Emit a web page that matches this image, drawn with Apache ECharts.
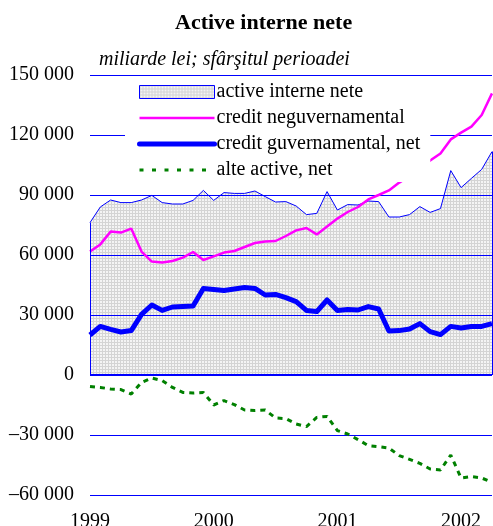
<!DOCTYPE html>
<html>
<head>
<meta charset="utf-8">
<script src="https://cdn.jsdelivr.net/npm/echarts@6/dist/echarts.min.js"></script>
<style>
  html, body { margin: 0; padding: 0; background: #fff; }
  #chart { width: 493px; height: 526px; }
</style>
</head>
<body>
<div id="chart"></div>
<script>
  // monthly, jan 1999 - apr 2002 (end of period)
  var years = ['1999', '2000', '2001', '2002'];
  var months = [];
  years.forEach(function (y) {
    for (var m = 1; m <= 12; m++) {
      if (months.length < 40) months.push(y + '-' + (m < 10 ? '0' + m : m));
    }
  });

  var activeInterne = [76200, 84000, 87500, 86200, 86200, 87500, 89800, 86200, 85500, 85500,
    87300, 92300, 87300, 91200, 90800, 90800, 92000, 89200, 86500, 86700,
    84500, 80200, 80800, 91700, 82500, 85200, 85000, 87000, 86700, 79000,
    79000, 80200, 84200, 81300, 83200, 102200, 93700, 98300, 102800, 111700];

  var creditNeguv = [61700, 65300, 71700, 71200, 73200, 61700, 56700, 56300, 57000, 58700,
    61500, 57500, 59300, 61200, 62000, 64000, 66000, 66700, 67000, 69500,
    72300, 73500, 70300, 74200, 78200, 81500, 84000, 87800, 90000, 92300,
    96200, 99500, 103300, 107200, 110800, 117800, 121200, 124200, 130000, 140800];

  var creditGuv = [20000, 24300, 22800, 21500, 22200, 30300, 35000, 32300, 34000, 34300,
    34500, 43300, 42800, 42300, 43000, 43700, 43300, 40000, 40300, 38700,
    36700, 32300, 31700, 37500, 32300, 32800, 32500, 34200, 33000, 22000,
    22200, 23000, 25700, 21700, 20200, 24300, 23500, 24200, 24300, 25700];

  var alteActive = [-5700, -6200, -7000, -7300, -9500, -3700, -1500, -2800, -6200, -8700,
    -9000, -8700, -15000, -12800, -14800, -17500, -17800, -17500, -21500, -21800,
    -24500, -25800, -21200, -20700, -27800, -29500, -32300, -35300, -35800, -36500,
    -40300, -42200, -44200, -47000, -47500, -40000, -51500, -50800, -51500, -53700];

  var seriesNames = ['active interne nete', 'credit neguvernamental', 'credit guvernamental, net', 'alte active, net'];

  var FONT = '"Liberation Serif", "Times New Roman", serif';

  // dotted gray fill
  var pat = document.createElement('canvas');
  pat.width = 3;
  pat.height = 3;
  var pctx = pat.getContext('2d');
  pctx.fillStyle = '#f4f4f4';
  pctx.fillRect(0, 0, 3, 3);
  pctx.fillStyle = '#d4d4d4';
  pctx.fillRect(0, 0, 3, 1);
  pctx.fillRect(0, 0, 1, 3);
  var fillPattern = {image: pat, repeat: 'repeat'};

  function fmt(v) {
    var s = String(Math.abs(v));
    s = s.replace(/\B(?=(\d{3})+(?!\d))/g, ' ');
    return (v < 0 ? '\u2013' : '') + s;
  }

  var chart = echarts.init(document.getElementById('chart'), null, {renderer: 'canvas'});

  chart.setOption({
    animation: false,
    backgroundColor: '#fff',
    textStyle: {fontFamily: FONT},
    title: [
      {
        text: 'Active interne nete',
        left: 170,
        top: 7,
        textStyle: {fontFamily: FONT, fontSize: 22, fontWeight: 'bold', color: '#000'}
      },
      {
        text: 'miliarde lei; sfârşitul perioadei',
        left: 94,
        top: 45,
        textStyle: {fontFamily: FONT, fontSize: 20, fontStyle: 'italic', fontWeight: 'normal', color: '#000'}
      }
    ],
    legend: {
      orient: 'vertical',
      left: 125,
      top: 80,
      z: 4,
      backgroundColor: '#fff',
      padding: [2, 10, 2, 12],
      itemWidth: 75,
      itemHeight: 13,
      itemGap: 6,
      textStyle: {fontFamily: FONT, fontSize: 20, color: '#000', padding: [0, 0, 0, -3]},
      data: [
        {name: seriesNames[0], icon: 'rect', itemStyle: {color: fillPattern, borderColor: '#0000ff', borderWidth: 1}},
        {name: seriesNames[1], itemStyle: {opacity: 0}, lineStyle: {width: 2.5}},
        {name: seriesNames[2], itemStyle: {opacity: 0}, lineStyle: {width: 5, cap: 'round'}},
        {name: seriesNames[3], itemStyle: {opacity: 0}, lineStyle: {width: 3, type: [4, 8.5]}}
      ]
    },
    grid: {left: 90, right: 1, top: 75, bottom: 31, outerBoundsMode: 'none'},
    xAxis: {
      type: 'category',
      boundaryGap: false,
      data: months,
      axisLine: {show: false},
      axisTick: {show: false},
      splitLine: {show: false},
      axisLabel: {
        interval: function (i) { return i % 12 === 0; },
        formatter: function (v) { return v.slice(0, 4); },
        margin: 17,
        fontFamily: FONT,
        fontSize: 20,
        color: '#000'
      }
    },
    yAxis: {
      type: 'value',
      min: -60000,
      max: 150000,
      interval: 30000,
      z: 2,
      axisLine: {show: false},
      axisTick: {show: false},
      splitLine: {lineStyle: {color: '#0000ff', width: 1}},
      axisLabel: {
        formatter: fmt,
        margin: 16,
        fontFamily: FONT,
        fontSize: 20,
        color: '#000'
      }
    },
    series: [
      {
        name: seriesNames[0],
        type: 'line',
        z: 1,
        data: activeInterne,
        symbol: 'none',
        lineStyle: {color: '#0000ff', width: 1},
        itemStyle: {color: '#0000ff'},
        areaStyle: {color: fillPattern, opacity: 1},
        markLine: {
          silent: true,
          symbol: 'none',
          label: {show: false},
          lineStyle: {color: '#0000ff', type: 'solid', width: 1},
          data: [
            [{coord: [months[0], 0]}, {coord: [months[0], activeInterne[0]]}],
            [{coord: [months[months.length - 1], 0]}, {coord: [months[months.length - 1], activeInterne[activeInterne.length - 1]]}],
            [{coord: [months[0], 0], lineStyle: {width: 2}}, {coord: [months[months.length - 1], 0]}]
          ]
        }
      },
      {
        name: seriesNames[1],
        type: 'line',
        z: 3,
        data: creditNeguv,
        symbol: 'none',
        lineStyle: {color: '#ff00ff', width: 2.5},
        itemStyle: {color: '#ff00ff'}
      },
      {
        name: seriesNames[2],
        type: 'line',
        z: 3,
        data: creditGuv,
        symbol: 'none',
        lineStyle: {color: '#0000ff', width: 5, join: 'round'},
        itemStyle: {color: '#0000ff'}
      },
      {
        name: seriesNames[3],
        type: 'line',
        z: 3,
        data: alteActive,
        symbol: 'none',
        lineStyle: {color: '#008000', width: 3, type: [5, 5]},
        itemStyle: {color: '#008000'}
      }
    ]
  });
</script>
</body>
</html>
